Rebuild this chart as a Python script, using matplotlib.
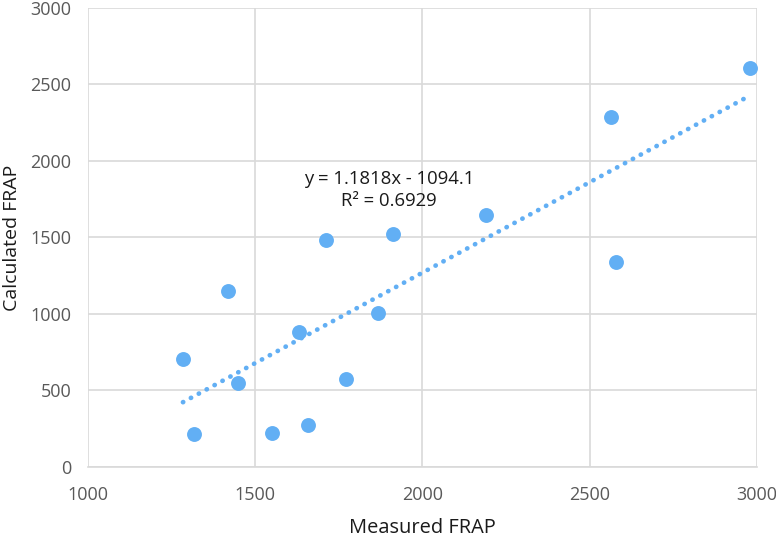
import numpy as np
import matplotlib.pyplot as plt

plt.rcParams['font.family'] = ['Open Sans', 'DejaVu Sans']

# measured vs calculated FRAP values
measured = [1284, 1317, 1419, 1448, 1550, 1631, 1658, 1712, 1771, 1867, 1912, 2190, 2564, 2578, 2979]
calculated = [706, 216, 1150, 549, 222, 882, 275, 1484, 575, 1007, 1523, 1647, 2288, 1340, 2608]

# linear trendline as printed on the chart
slope = 1.1818
intercept = -1094.1
r2 = 0.6929

xticks = [1000, 1500, 2000, 2500, 3000]
yticks = [0, 500, 1000, 1500, 2000, 2500, 3000]

blue = '#62AFF4'
grid = '#D9D9D9'
tick_col = '#595959'

fig = plt.figure(figsize=(7.76, 5.37), dpi=100)
ax = fig.add_axes([0.1134, 0.1304, 0.862, 0.855])

ax.scatter(measured, calculated, s=115, color=blue, zorder=3, linewidths=0)

xs = np.array([min(measured), max(measured)])
ax.plot(xs, slope * xs + intercept, color=blue, linewidth=3.4,
        linestyle=(0, (0.05, 1.85)), dash_capstyle='round', zorder=2)

ax.text(1900, 1810, f'y = {slope}x - {abs(intercept)}\nR² = {r2}',
        ha='center', va='center', fontsize=13.3, color='#1a1a1a', linespacing=1.3)

ax.set_xlim(1000, 3000)
ax.set_ylim(0, 3000)
ax.set_xticks(xticks)
ax.set_yticks(yticks)
ax.grid(True, color=grid, linewidth=1.2)
ax.set_axisbelow(True)

for s in ['top', 'right', 'left']:
    ax.spines[s].set_visible(False)
ax.spines['bottom'].set_color(grid)
ax.spines['bottom'].set_linewidth(1.2)

ax.tick_params(length=0, labelsize=13, colors=tick_col)
ax.tick_params(axis='x', pad=14)
ax.tick_params(axis='y', pad=12)

ax.set_xlabel('Measured FRAP', fontsize=14.4, color='#1a1a1a', labelpad=10)
ax.set_ylabel('Calculated FRAP', fontsize=14, color='#1a1a1a')
ax.yaxis.set_label_coords(-0.1, 0.5)

plt.savefig('out.png', dpi=100)
